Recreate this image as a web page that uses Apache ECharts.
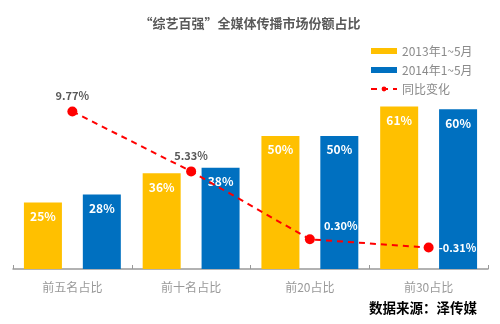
<!DOCTYPE html>
<html>
<head>
<meta charset="utf-8">
<script src="https://cdn.jsdelivr.net/npm/echarts@6/dist/echarts.min.js"></script>
<style>
  html, body { margin: 0; padding: 0; background: #fff; }
  #chart { width: 500px; height: 324px; }
</style>
</head>
<body>
<div id="chart"></div>
<script>
// Share of the top variety shows across all media, Jan–May 2013 vs 2014
var categories = ['前五名占比', '前十名占比', '前20占比', '前30占比'];
var share2013 = [25, 36, 50, 61];
var share2014 = [28, 38, 50, 60];
var yoyChange = [9.77, 5.33, 0.30, -0.31];
var seriesNames = ['2013年1~5月', '2014年1~5月', '同比变化'];

var FONT = '"Noto Sans CJK SC", "Noto Sans", sans-serif';

// per-point label placement for the year-on-year line
var changeLabels = [
  { position: 'top', offset: [0, 0], color: '#595959' },
  { position: 'top', offset: [0, 0], color: '#595959' },
  { position: 'right', offset: [4, -13], color: '#ffffff' },
  { position: 'right', offset: [0, 0], color: '#ffffff' }
];

var changeData = yoyChange.map(function (v, i) {
  return {
    value: v,
    label: {
      position: changeLabels[i].position,
      offset: changeLabels[i].offset,
      color: changeLabels[i].color
    }
  };
});

var chart = echarts.init(document.getElementById('chart'), null, { renderer: 'canvas' });

var barLabel = {
  show: true,
  position: 'insideTop',
  distance: 8,
  color: '#ffffff',
  fontWeight: 'bold',
  fontSize: 12,
  fontFamily: FONT,
  formatter: function (p) { return p.value + '%'; }
};

chart.setOption({
  animation: false,
  backgroundColor: '#ffffff',
  title: {
    text: '“综艺百强”全媒体传播市场份额占比',
    left: 'center',
    top: 12,
    textStyle: { color: '#595959', fontSize: 13, fontWeight: 'bold', fontFamily: FONT }
  },
  legend: {
    orient: 'vertical',
    left: 365,
    top: 40,
    itemWidth: 26,
    itemHeight: 6,
    itemGap: 7,
    textStyle: { color: '#8a8a8a', fontSize: 12, fontFamily: FONT },
    data: [
      { name: seriesNames[0], icon: 'rect' },
      { name: seriesNames[1], icon: 'rect' },
      { name: seriesNames[2] }
    ]
  },
  grid: { left: 13, right: 12, top: 80, bottom: 55, containLabel: false },
  xAxis: {
    type: 'category',
    data: categories,
    axisLine: { lineStyle: { color: '#999999', width: 1.5 } },
    axisTick: { show: true, inside: true, length: 4, lineStyle: { color: '#999999' } },
    axisLabel: { color: '#999999', fontSize: 12, margin: 12, fontFamily: FONT }
  },
  yAxis: [
    { type: 'value', min: 0, max: 71, show: false, splitLine: { show: false } },
    { type: 'value', min: -1.9, max: 12.1, show: false, splitLine: { show: false } }
  ],
  series: [
    {
      name: seriesNames[0],
      type: 'bar',
      data: share2013,
      barWidth: 38,
      barGap: '55%',
      itemStyle: { color: '#FFC000' },
      label: barLabel
    },
    {
      name: seriesNames[1],
      type: 'bar',
      data: share2014,
      barWidth: 38,
      barGap: '55%',
      itemStyle: { color: '#0070C0' },
      label: barLabel
    },
    {
      name: seriesNames[2],
      type: 'line',
      yAxisIndex: 1,
      data: changeData,
      symbol: 'circle',
      symbolSize: 10,
      z: 5,
      itemStyle: { color: '#FF0000' },
      lineStyle: { color: '#FF0000', width: 2, type: [6, 5] },
      label: {
        show: true,
        fontSize: 11,
        fontWeight: 'bold',
        fontFamily: FONT,
        formatter: function (p) { return p.value.toFixed(2) + '%'; }
      }
    }
  ],
  graphic: [
    {
      type: 'text',
      right: 23,
      top: 301,
      style: {
        text: '数据来源：泽传媒',
        fill: '#000000',
        font: 'bold 13.5px ' + FONT
      }
    }
  ]
});
</script>
</body>
</html>
